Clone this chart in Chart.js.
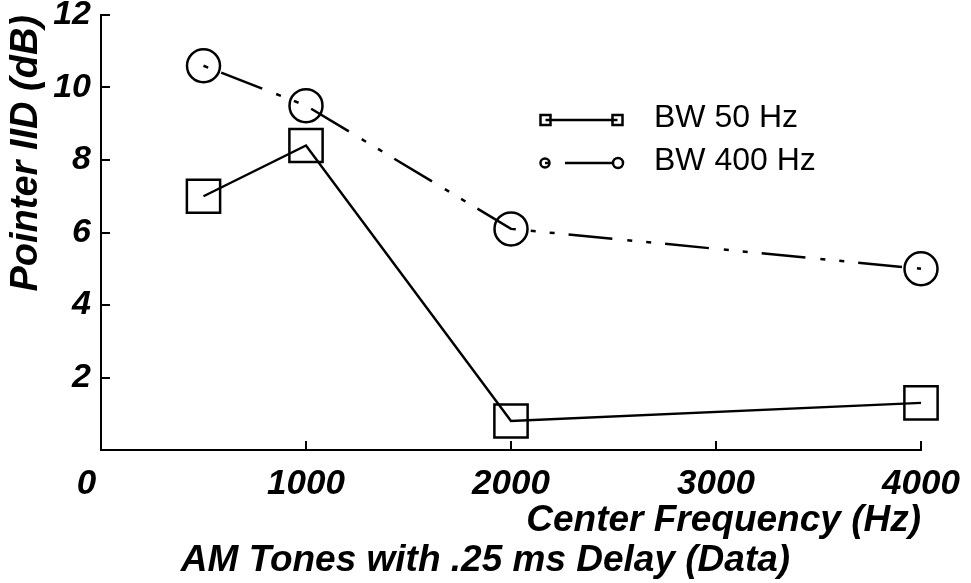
<!DOCTYPE html>
<html>
<head>
<meta charset="utf-8">
<script src="https://cdn.jsdelivr.net/npm/chart.js@4/dist/chart.umd.min.js"></script>
<style>
html,body{margin:0;padding:0;background:#fff;}
#wrap{width:971px;height:583px;}
</style>
</head>
<body>
<div id="wrap"><canvas id="c" width="971" height="583"></canvas></div>
<script>
// ---- data ----
const frequencies = [500, 1000, 2000, 4000];
const bw50 = [7.0, 8.4, 0.8, 1.3];
const bw400 = [10.6, 9.5, 6.1, 5.0];
const seriesNames = ['BW 50 Hz', 'BW 400 Hz'];
const xTicks = [0, 1000, 2000, 3000, 4000];
const yTicks = [2, 4, 6, 8, 10, 12];
const chartTitle = 'AM Tones with .25 ms Delay (Data)';
const xTitle = 'Center Frequency (Hz)';
const yTitle = 'Pointer IID (dB)';

const FAMILY = "'Liberation Sans', Arial, Helvetica, sans-serif";

function toPoints(xs, ys) { return xs.map((x, i) => ({x: x, y: ys[i]})); }

// legend icons (line sample with markers at both ends)
function makeIcon(kind) {
  const c = document.createElement('canvas');
  c.width = 86; c.height = 24;
  const g = c.getContext('2d');
  g.strokeStyle = '#000';
  g.lineWidth = 2.5;
  const cy = 14;
  if (kind === 'rect') {
    g.beginPath(); g.moveTo(6.5, cy); g.lineTo(78.5, cy); g.stroke();
    g.strokeRect(1.5, cy - 5, 10, 10);
    g.strokeRect(73.5, cy - 5, 10, 10);
  } else {
    g.beginPath(); g.arc(6, cy, 4.5, 0, Math.PI * 2); g.stroke();
    g.beginPath(); g.moveTo(6, cy); g.lineTo(10, cy); g.stroke();
    g.beginPath(); g.moveTo(26, cy); g.lineTo(74, cy); g.stroke();
    g.beginPath(); g.arc(79, cy, 5, 0, Math.PI * 2); g.stroke();
  }
  return c;
}
const legendIcons = [makeIcon('rect'), makeIcon('circle')];

const legendPlacer = {
  id: 'legendPlacer',
  afterLayout(chart) {
    const lg = chart.legend;
    if (!lg) return;
    const w = lg.width, h = lg.height;
    lg.left = 515; lg.top = 91;
    lg.right = lg.left + w; lg.bottom = lg.top + h;
  }
};

new Chart(document.getElementById('c'), {
  type: 'line',
  data: {
    datasets: [
      {
        label: seriesNames[0],
        data: toPoints(frequencies, bw50),
        borderColor: '#000',
        backgroundColor: 'rgba(0,0,0,0)',
        borderWidth: 2.5,
        pointStyle: 'rect',
        pointRadius: 23.5,
        pointHoverRadius: 23.5,
        pointBorderWidth: 2.5,
        pointBorderColor: '#000',
        pointBackgroundColor: 'rgba(0,0,0,0)',
        tension: 0,
        fill: false,
        clip: false
      },
      {
        label: seriesNames[1],
        data: toPoints(frequencies, bw400),
        borderColor: '#000',
        backgroundColor: 'rgba(0,0,0,0)',
        borderWidth: 2.5,
        borderDash: [5, 14, 44, 15, 5, 14],
        pointStyle: 'circle',
        pointRadius: 16.5,
        pointHoverRadius: 16.5,
        pointBorderWidth: 2.5,
        pointBorderColor: '#000',
        pointBackgroundColor: 'rgba(0,0,0,0)',
        tension: 0,
        fill: false,
        clip: false
      }
    ]
  },
  options: {
    responsive: false,
    animation: false,
    events: [],
    layout: { autoPadding: false, padding: { top: 15, left: 0, right: 0, bottom: 0 } },
    plugins: {
      tooltip: { enabled: false },
      title: {
        display: true,
        text: chartTitle,
        position: 'bottom',
        color: '#000',
        font: { family: FAMILY, size: 37, weight: 'bold', style: 'italic', lineHeight: 1 },
        padding: { top: 3, bottom: 4 }
      },
      legend: {
        display: true,
        position: 'chartArea',
        align: 'start',
        labels: {
          color: '#000',
          font: { family: FAMILY, size: 32, weight: 'normal' },
          usePointStyle: true,
          pointStyleWidth: 112,
          padding: 11,
          generateLabels(chart) {
            const items = Chart.defaults.plugins.legend.labels.generateLabels(chart);
            items.forEach((it, i) => { it.pointStyle = legendIcons[i]; it.lineWidth = 0; });
            return items;
          }
        }
      }
    },
    scales: {
      x: {
        type: 'linear',
        min: 0, max: 4000,
        afterBuildTicks(s) { s.ticks = xTicks.map(v => ({value: v})); },
        afterFit(s) { s.height = 89; s.paddingLeft = 0; s.paddingRight = 50; },
        border: { display: true, color: '#000', width: 2 },
        grid: { display: true, drawOnChartArea: false, drawTicks: true, tickLength: -9, color: '#000', lineWidth: 2 },
        ticks: {
          color: '#000',
          padding: 26,
          maxRotation: 0,
          autoSkip: false,
          font: { family: FAMILY, size: 35, weight: 'bold', style: 'italic', lineHeight: 1 },
          callback(v) { return v === 0 ? '0   ' : String(v); }
        },
        title: {
          display: true,
          text: xTitle,
          align: 'end',
          color: '#000',
          font: { family: FAMILY, size: 37, weight: 'bold', style: 'italic', lineHeight: 1 },
          padding: { top: 0, bottom: 0 }
        }
      },
      y: {
        type: 'linear',
        min: 0, max: 12,
        afterBuildTicks(s) { s.ticks = yTicks.map(v => ({value: v})); },
        afterFit(s) { s.width = 101; s.paddingTop = 0; s.paddingBottom = 0; },
        border: { display: true, color: '#000', width: 2 },
        grid: { display: true, drawOnChartArea: false, drawTicks: true, tickLength: -9, color: '#000', lineWidth: 2 },
        ticks: {
          color: '#000',
          padding: 19,
          autoSkip: false,
          font: { family: FAMILY, size: 34, weight: 'bold', style: 'italic', lineHeight: 1 },
          callback(v) { return String(v); }
        },
        title: {
          display: true,
          text: yTitle,
          align: 'end',
          color: '#000',
          font: { family: FAMILY, size: 38, weight: 'bold', style: 'italic', lineHeight: 1 },
          padding: { top: 8, bottom: 0 }
        }
      }
    }
  },
  plugins: [legendPlacer]
});
</script>
</body>
</html>
